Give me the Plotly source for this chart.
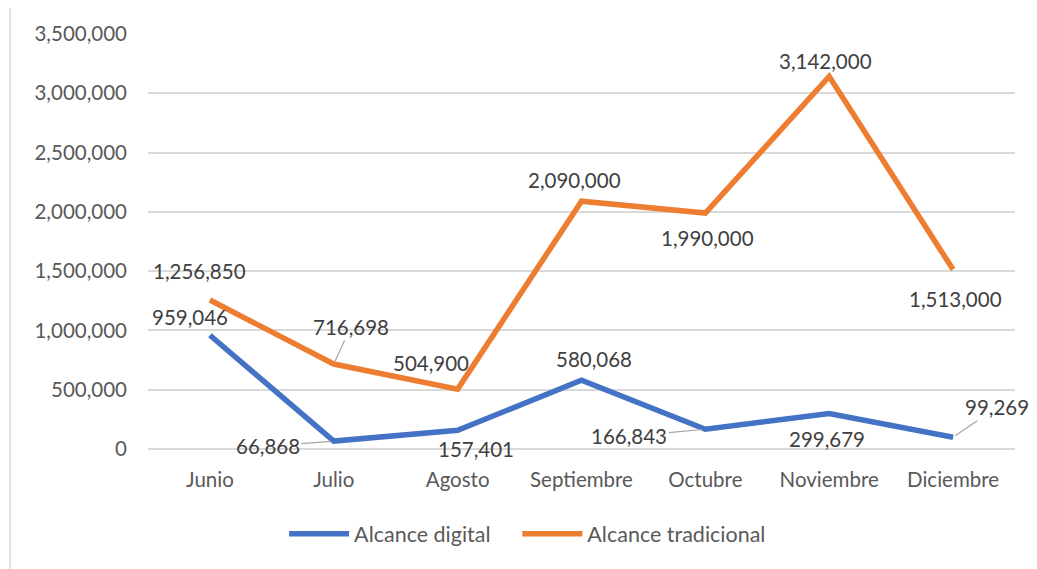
import plotly.graph_objects as go

meses = ["Junio", "Julio", "Agosto", "Septiembre", "Octubre", "Noviembre", "Diciembre"]
alcance_digital = [959046, 66868, 157401, 580068, 166843, 299679, 99269]
alcance_tradicional = [1256850, 716698, 504900, 2090000, 1990000, 3142000, 1513000]
y_ticks = [0, 500000, 1000000, 1500000, 2000000, 2500000, 3000000, 3500000]

BLUE = "#4472C4"
ORANGE = "#ED7D31"
FONT = "Lato"
FS = 20.5

fig = go.Figure()
fig.add_trace(go.Scatter(x=meses, y=alcance_digital, mode="lines", name="Alcance digital",
                         line=dict(color=BLUE, width=5.5), legend="legend"))
fig.add_trace(go.Scatter(x=meses, y=alcance_tradicional, mode="lines", name="Alcance tradicional",
                         line=dict(color=ORANGE, width=5.5), legend="legend2"))

# label offsets (pixels) : (dx, dy, leader)
off_trad = [(-10, -29, False), (17, -37, True), (-27, -26, False), (-7, -21, False),
            (2, 25, False), (-4, -15, False), (2, 29, False)]
off_dig = [(-20, -18, False), (-66, 5, True), (18, 19, False), (12, -21, False),
           (-76, 7, True), (-2, 26, False), (44, -30, True)]

ann = []
for series, offs in ((alcance_tradicional, off_trad), (alcance_digital, off_dig)):
    for m, v, (dx, dy, lead) in zip(meses, series, offs):
        a = dict(x=m, y=v, xref="x", yref="y", text=f"{v:,}",
                 font=dict(family=FONT, size=FS, color="#404040"))
        if lead:
            a.update(showarrow=True, ax=dx, ay=dy, arrowhead=0, arrowwidth=1.2,
                     arrowcolor="#A6A6A6", standoff=3)
        else:
            a.update(showarrow=False, xshift=dx, yshift=-dy)
        ann.append(a)

legend_style = dict(orientation="h", xanchor="left", y=-0.155, yanchor="top",
                    font=dict(family=FONT, size=21.5, color="#595959"), itemwidth=60,
                    bgcolor="rgba(0,0,0,0)")

fig.update_layout(
    width=1029, height=561,
    margin=dict(l=140, r=22, t=26, b=120),
    paper_bgcolor="white", plot_bgcolor="white",
    font=dict(family=FONT, size=FS, color="#595959"),
    showlegend=True,
    legend=dict(x=0.157, **legend_style),
    legend2=dict(x=0.426, **legend_style),
    annotations=ann,
    shapes=[
        dict(type="line", xref="paper", yref="paper", x0=-0.159, x1=1.1, y0=1.0699, y1=1.0699,
             line=dict(color="#D9D9D9", width=1.5)),
        dict(type="line", xref="paper", yref="paper", x0=-0.159, x1=-0.159, y0=-0.35, y1=1.0699,
             line=dict(color="#D9D9D9", width=1.5)),
    ],
)
fig.update_xaxes(type="category", range=[-0.5, 6.5], showgrid=False, showline=False,
                 zeroline=False, ticks="", ticklabelstandoff=16,
                 tickfont=dict(family=FONT, size=FS, color="#595959"))
fig.update_yaxes(range=[0, 3500000], tickvals=y_ticks, tickformat=",", showgrid=True,
                 gridcolor="#D9D9D9", gridwidth=1.5, zeroline=True, zerolinecolor="#D9D9D9",
                 zerolinewidth=1.5, showline=False, ticks="", ticklabelstandoff=20,
                 tickfont=dict(family=FONT, size=FS, color="#595959"))

fig.write_html("out.html")
